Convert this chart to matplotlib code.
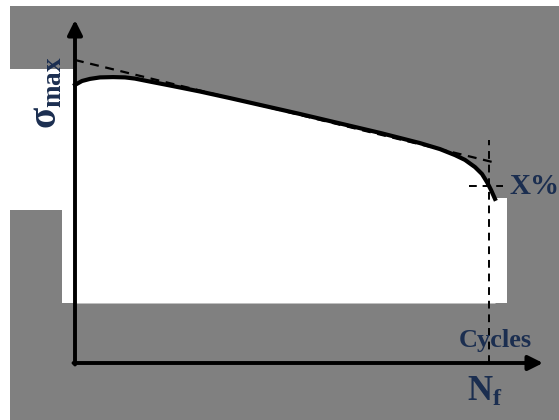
import numpy as np
import matplotlib
matplotlib.use("Agg")
from matplotlib import pyplot as plt
from matplotlib.patches import Rectangle

# schematic S-N style curve: x = N / Nf, y = normalised sigma_max
life = [0.0, 0.0169, 0.0362, 0.0604, 0.0918, 0.1208, 0.1449, 0.1812, 0.2295,
        0.3019, 0.3744, 0.5435, 0.7367, 0.8333, 0.8816, 0.9179, 0.9420, 0.9662,
        0.9831, 0.9952, 1.0048, 1.0145]
stress = [0.927, 0.940, 0.947, 0.952, 0.953, 0.952, 0.948, 0.938, 0.925,
          0.905, 0.883, 0.830, 0.767, 0.733, 0.713, 0.693, 0.677, 0.653,
          0.630, 0.603, 0.577, 0.547]

# tangent (dashed) line of the linear part
tan_x = [0.0, 1.017]
tan_y = [1.01, 0.667]

nf = 1.0          # failure life
drop = 0.59       # stress level at X% drop
txt_color = '#1b2e50'

plt.rcParams['mathtext.fontset'] = 'custom'
plt.rcParams['mathtext.rm'] = 'Liberation Serif:bold'
plt.rcParams['mathtext.it'] = 'Liberation Serif:bold'
plt.rcParams['mathtext.bf'] = 'Liberation Serif:bold'

fig = plt.figure(figsize=(5.59, 4.20), dpi=100)
fig.patch.set_facecolor('white')
ax = fig.add_axes([0, 0, 1, 1])
sx, sy = 414.0, 300.0
ax.set_xlim(-75 / sx, 484 / sx)
ax.set_ylim(-57 / sy, 363 / sy)
ax.axis('off')

# grey background and the white patches of the original picture
ax.add_patch(Rectangle((-65 / sx, -57 / sy), 2, 357 / sy + 57 / sy, color='#808080', lw=0, zorder=0))
ax.add_patch(Rectangle((-65 / sx, 153 / sy), 52 / sx, 141 / sy, color='white', lw=0, zorder=1))
ax.add_patch(Rectangle((-13 / sx, 60 / sy), 14 / sx, 234 / sy, color='white', lw=0, zorder=1))
ax.add_patch(Rectangle((0.997, 60 / sy), 19 / sx, 105 / sy, color='white', lw=0, zorder=1))
ax.fill_between(life, stress, 60 / sy, color='white', lw=0, zorder=1)

# axes arrows
ax.annotate('', xy=(0, 343 / sy), xytext=(0, -1.5 / sy),
            arrowprops=dict(arrowstyle='-|>', lw=2.8, color='black', mutation_scale=22,
                            shrinkA=0, shrinkB=0), zorder=5)
ax.annotate('', xy=(468 / sx, 0), xytext=(-1.5 / sx, 0),
            arrowprops=dict(arrowstyle='-|>', lw=2.8, color='black', mutation_scale=22,
                            shrinkA=0, shrinkB=0), zorder=5)

# curve and construction lines
ax.plot(life, stress, color='black', lw=3.0, solid_joinstyle='round', zorder=4)
ax.plot(tan_x, tan_y, color='black', lw=1.6, ls=(0, (4, 3)), zorder=3)
ax.plot([nf, nf], [0, 223 / sy], color='black', lw=1.4, ls=(0, (4, 3)), zorder=3)
ax.plot([-20 / sx + nf, 14 / sx + nf], [drop, drop], color='black', lw=1.4, ls=(0, (4, 3)), zorder=3)

# labels
ax.text(-30 / sx, 270 / sy, r'$\sigma_{\rm max}$', rotation=90, fontsize=28,
        color=txt_color, ha='center', va='center')
ax.text(1.05, drop, 'X%', fontsize=21, fontweight='bold', family='Liberation Serif',
        color=txt_color, ha='left', va='center')
ax.text(1.015, 23 / sy, 'Cycles', fontsize=19, fontweight='bold', family='Liberation Serif',
        color=txt_color, ha='center', va='center')
ax.text(0.99, -28 / sy, r'$\mathrm{N_f}$', fontsize=25,
        color=txt_color, ha='center', va='center')

fig.savefig('out.png', dpi=100, facecolor='white')
